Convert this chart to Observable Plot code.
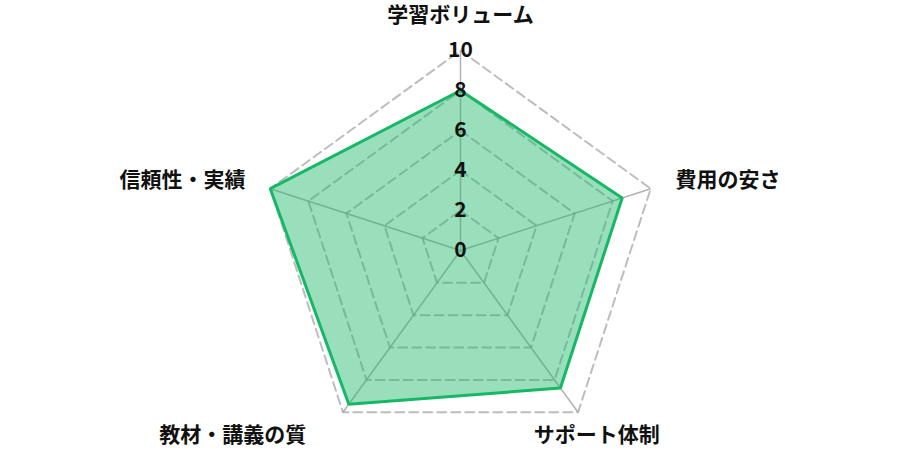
<!DOCTYPE html>
<html>
<head>
<meta charset="utf-8">
<script src="https://cdn.jsdelivr.net/npm/d3@7"></script>
<script src="https://cdn.jsdelivr.net/npm/@observablehq/plot@0.6"></script>
<style>
  html, body { margin: 0; padding: 0; background: #fff; }
  #chart svg { display: block; }
</style>
</head>
<body>
<div id="chart"></div>
<script>
// ---- data ----
const categories = ["学習ボリューム", "費用の安さ", "サポート体制", "教材・講義の質", "信頼性・実績"];
const values = [8, 8.5, 8.5, 9.5, 10];
const tickValues = [0, 2, 4, 6, 8, 10];
const maxValue = 10;

// ---- layout (styling only) ----
const labelRadius = [11.75, 11.3, 11.43, 11.43, 11.3];
const labelAnchor = ["middle", "start", "middle", "end", "end"];
const labelDx = [0, 0, 2, -20, 0];

const n = categories.length;
const angle = i => (i * 2 * Math.PI) / n;
const px = (i, r) => r * Math.sin(angle(i));
const py = (i, r) => r * Math.cos(angle(i));

const points = categories.map((c, i) => ({cat: c, i, value: values[i]}));

const rings = [];
for (const t of tickValues.filter(t => t > 0)) {
  for (let i = 0; i < n; i++) rings.push({level: t, i});
}

const labels = categories.map((c, i) => ({cat: c, i}));

const chart = Plot.plot({
  width: 900,
  height: 450,
  margin: 0,
  x: {domain: [-23, 22], range: [0, 900], axis: null},
  y: {domain: [-10, 12.5], range: [450, 0], axis: null},
  style: {background: "#fff", fontFamily: "'Noto Sans CJK JP', 'Noto Sans', sans-serif", overflow: "visible"},
  marks: [
    // dashed rings
    Plot.line(rings, {
      x: d => px(d.i, d.level), y: d => py(d.i, d.level), z: "level",
      curve: "linear-closed", stroke: "#bdbdbd", strokeWidth: 2, strokeDasharray: "9,5"
    }),
    // spokes
    Plot.link(labels, {
      x1: 0, y1: 0,
      x2: d => px(d.i, maxValue), y2: d => py(d.i, maxValue),
      stroke: "#999", strokeOpacity: 0.75, strokeWidth: 1.5
    }),
    // data fill
    Plot.area(points, {
      x1: d => px(d.i, d.value), y1: d => py(d.i, d.value),
      x2: 0, y2: 0, curve: "linear-closed",
      fill: "#1cb96b", fillOpacity: 0.45
    }),
    // data outline
    Plot.line(points, {
      x: d => px(d.i, d.value), y: d => py(d.i, d.value),
      curve: "linear-closed", stroke: "#16b866", strokeWidth: 3, strokeLinejoin: "miter"
    }),
    // tick labels
    Plot.text(tickValues, {
      x: 0, y: d => d, text: d => String(d),
      fontSize: 21, fontWeight: 700, fill: "#111", textAnchor: "middle"
    }),
    // axis labels
    Plot.text(labels, {
      x: d => px(d.i, labelRadius[d.i]), y: d => py(d.i, labelRadius[d.i]),
      text: "cat",
      fontSize: 21, fontWeight: 700, fill: "#111"
    })
  ]
});

// per-label anchors / offsets
const textGroups = chart.querySelectorAll("g[aria-label='text']");
const labelGroup = textGroups[textGroups.length - 1];
labelGroup.querySelectorAll("text").forEach((t, k) => {
  t.setAttribute("text-anchor", labelAnchor[k]);
  const tr = t.getAttribute("transform") || "";
  t.setAttribute("transform", tr + ` translate(${labelDx[k]},0)`);
});

document.getElementById("chart").appendChild(chart);
</script>
</body>
</html>
